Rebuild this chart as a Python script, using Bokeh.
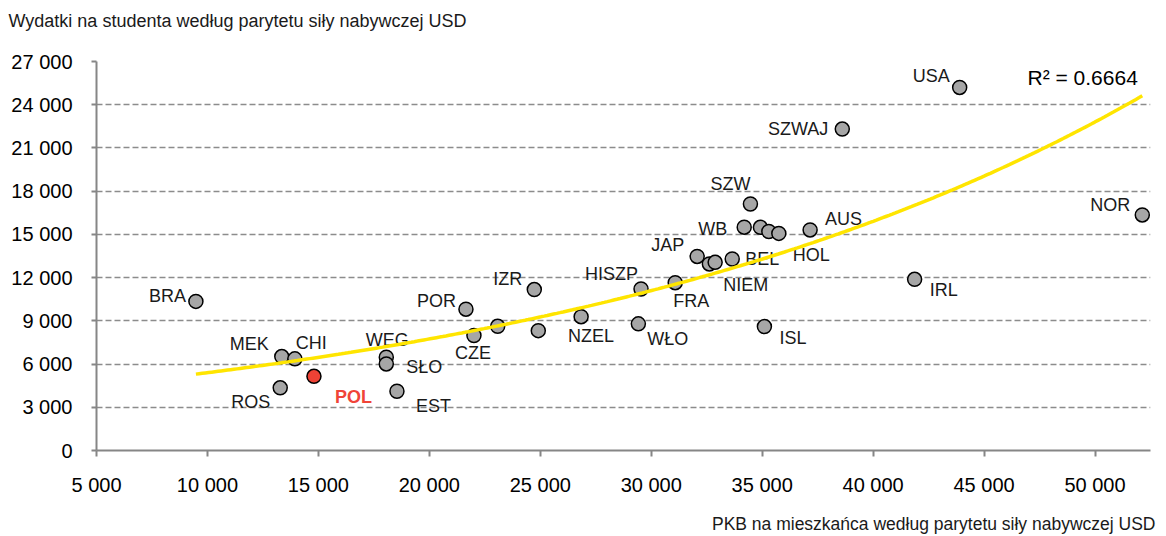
import numpy as np
from bokeh.plotting import figure
from bokeh.models import ColumnDataSource, FixedTicker, Label, Range1d, Title
from bokeh.core.properties import value
from bokeh.embed import file_html
from bokeh.resources import INLINE

# ---- data ----
countries = ["BRA", "MEK", "CHI", "ROS", "POL", "WEG", "SŁO", "EST", "POR", "CZE", "",
             "IZR", "", "NZEL", "HISZP", "WŁO", "FRA", "JAP", "", "NIEM", "BEL", "ISL",
             "SZW", "WB", "", "", "HOL", "AUS", "IRL", "SZWAJ", "USA", "NOR"]
gdp_per_capita = [9480, 13350, 13940, 13280, 14800, 18060, 18060, 18540, 21650, 22010, 23080,
                  24730, 24910, 26840, 29540, 29420, 31080, 32070, 32620, 32880, 33650, 35100,
                  34470, 34190, 34920, 35300, 35750, 37160, 41870, 38610, 43900, 52130]
spend_per_student = [10350, 6520, 6360, 4350, 5150, 6470, 6010, 4110, 9810, 7980, 8620,
                     11170, 8320, 9290, 11210, 8790, 11650, 13470, 12950, 13060, 13290, 8600,
                     17110, 15500, 15490, 15200, 15070, 15310, 11880, 22310, 25200, 16350]
highlight = "POL"
r2_text = "R² = 0.6664"

x_ticks = [5000, 10000, 15000, 20000, 25000, 30000, 35000, 40000, 45000, 50000]
x_tick_labels = ["5 000", "10 000", "15 000", "20 000", "25 000", "30 000", "35 000",
                 "40 000", "45 000", "50 000"]
y_ticks = [0, 3000, 6000, 9000, 12000, 15000, 18000, 21000, 24000, 27000]
y_tick_labels = ["0", "3 000", "6 000", "9 000", "12 000", "15 000", "18 000", "21 000",
                 "24 000", "27 000"]

y_title = "Wydatki na studenta według parytetu siły nabywczej USD"
x_title = "PKB na mieszkańca według parytetu siły nabywczej USD"

# ---- label placement (screen px offsets, alignment) ----
label_layout = {
    "BRA": (-10, -5, "right"), "MEK": (-13, -13, "right"), "CHI": (1, -16, "left"),
    "ROS": (-10, 14, "right"), "POL": (21, 21, "left"), "WEG": (1, -17, "center"),
    "SŁO": (20, 3, "left"), "EST": (19, 15, "left"), "POR": (-10, -8, "right"),
    "CZE": (-1, 17, "center"), "IZR": (-12, -11, "right"), "NZEL": (-13, 19, "left"),
    "HISZP": (-3, -15, "right"), "WŁO": (9, 15, "left"), "FRA": (-2, 18, "left"),
    "JAP": (-13, -11, "right"), "NIEM": (8, 23, "left"), "BEL": (13, 0, "left"),
    "ISL": (15, 11, "left"), "SZW": (0, -20, "right"), "WB": (-17, 2, "right"),
    "HOL": (14, 22, "left"), "AUS": (15, -11, "left"), "IRL": (15, 11, "left"),
    "SZWAJ": (-14, 0, "right"), "USA": (-10, -11, "right"), "NOR": (-12, -10, "right"),
}

FONT_NAME = "Liberation Sans"
FONT = value(FONT_NAME)

p = figure(frame_width=1054, frame_height=389, min_border_left=96, min_border_top=61,
           min_border_right=8, min_border_bottom=78,
           x_range=Range1d(5000, 52500), y_range=Range1d(0, 27000),
           output_backend="svg", toolbar_location=None, tools="")
p.outline_line_color = None
p.background_fill_color = "white"
p.border_fill_color = "white"

# grid
p.xgrid.visible = False
p.ygrid.grid_line_color = "#8c8c8c"
p.ygrid.grid_line_dash = "6 3"
p.ygrid.grid_line_width = 1.5
p.ygrid.ticker = FixedTicker(ticks=y_ticks)

# axes
for ax in (p.xaxis[0], p.yaxis[0]):
    ax.axis_line_color = "#868686"
    ax.axis_line_width = 2
    ax.major_tick_line_color = "#868686"
    ax.major_tick_line_width = 2
    ax.major_tick_in = 0
    ax.minor_tick_line_color = None
    ax.major_label_text_font = FONT_NAME
    ax.major_label_text_font_size = "20px"
    ax.major_label_text_color = "black"

p.xaxis[0].ticker = FixedTicker(ticks=x_ticks)
p.xaxis[0].major_label_overrides = dict(zip(x_ticks, x_tick_labels))
p.xaxis[0].major_tick_out = 6
p.xaxis[0].major_label_standoff = 17

p.yaxis[0].ticker = FixedTicker(ticks=y_ticks)
p.yaxis[0].major_label_overrides = dict(zip(y_ticks, y_tick_labels))
p.yaxis[0].major_tick_out = 5
p.yaxis[0].major_label_standoff = 19

# points
fills = ["#ee4235" if c == highlight else "#a6a6a6" for c in countries]
src = ColumnDataSource(dict(x=gdp_per_capita, y=spend_per_student, fill=fills))
p.scatter("x", "y", source=src, size=14, fill_color="fill", line_color="black",
          line_width=1.5)

# labels
lab = dict(x=[], y=[], text=[], dx=[], dy=[], align=[])
pol = dict(x=[], y=[], text=[], dx=[], dy=[], align=[])
for c, gx, sy in zip(countries, gdp_per_capita, spend_per_student):
    if not c:
        continue
    dx, dy, al = label_layout[c]
    d = pol if c == highlight else lab
    d["x"].append(gx); d["y"].append(sy); d["text"].append(c)
    d["dx"].append(dx); d["dy"].append(dy); d["align"].append(al)

p.text("x", "y", text="text", x_offset="dx", y_offset="dy", text_align="align",
       text_baseline="middle", source=ColumnDataSource(lab), text_font=FONT,
       text_font_size="18px", text_color="#1a1a1a")
p.text("x", "y", text="text", x_offset="dx", y_offset="dy", text_align="align",
       text_baseline="middle", source=ColumnDataSource(pol), text_font=FONT,
       text_font_size="18px", text_color="#f04438", text_font_style="bold")

# exponential trendline (least squares on ln y, as Excel)
slope, intercept = np.polyfit(np.array(gdp_per_capita, float),
                              np.log(np.array(spend_per_student, float)), 1)
xs = np.linspace(min(gdp_per_capita), max(gdp_per_capita), 300)
ys = np.exp(intercept + slope * xs)
p.line(xs, ys, line_color="#ffe500", line_width=3.5)

# R2 annotation (frame-relative screen units)
p.add_layout(Label(x=931, y=373, x_units="screen", y_units="screen", text=r2_text,
                   text_font=FONT_NAME, text_font_size="21px", text_color="black",
                   text_baseline="middle", text_align="left"))

# axis titles
p.title.text = ""
spacer = Title(text=" ", text_font_size="1px", standoff=28)
p.add_layout(spacer, "above")
p.add_layout(Title(text=y_title, align="left", offset=-88, standoff=0,
                   text_font=FONT_NAME, text_font_size="18px", text_font_style="normal",
                   text_color="#1a1a1a", vertical_align="bottom"), "above")
p.add_layout(Title(text=x_title, align="right", offset=-5, standoff=30,
                   text_font=FONT_NAME, text_font_size="17.5px", text_font_style="normal",
                   text_color="#1a1a1a", vertical_align="top"), "below")

open("out.html", "w").write(file_html(p, INLINE))
